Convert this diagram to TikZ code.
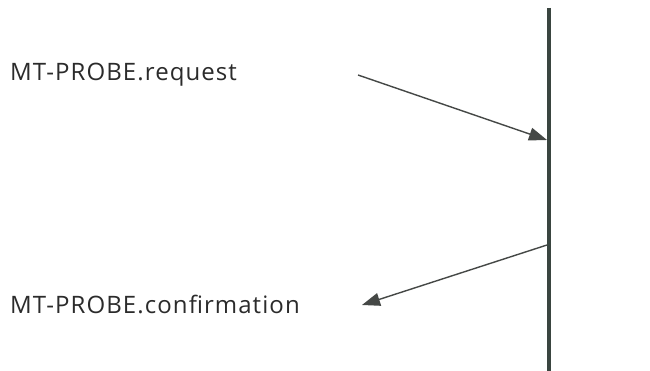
\documentclass[tikz,border=0pt]{standalone}
\usepackage{fontspec}
\setmainfont{Open Sans}[LetterSpace=4.5]
\usetikzlibrary{arrows.meta}
\definecolor{lifeline}{HTML}{3A4540}
\definecolor{msgline}{HTML}{454846}
\definecolor{msgtext}{HTML}{2B2B2B}
\tikzset{
  primitive/.style={anchor=base west, inner sep=0pt, text=msgtext, font=\fontsize{24}{28}\selectfont},
  message/.style={msgline, line width=1.4pt, -{Triangle[length=18pt,width=13pt]}},
}
\begin{document}
\begin{tikzpicture}[x=1pt,y=-1pt]
\useasboundingbox[fill=white] (0,0) rectangle (650,371);
\coordinate (top) at (549,8);
\coordinate (bottom) at (549,371);
\draw[lifeline, line width=3.8pt] (top) -- (bottom);
\node[primitive] (req) at (10,81) {MT-PROBE.request};
\node[primitive] (conf) at (10,313) {MT-PROBE.confirmation};
\coordinate (reqstart) at (358,75);
\coordinate (reqend) at (547,140);
\coordinate (confstart) at (547,245);
\coordinate (confend) at (362,305);
\draw[message] (reqstart) -- (reqend);
\draw[message] (confstart) -- (confend);
\end{tikzpicture}
\end{document}
